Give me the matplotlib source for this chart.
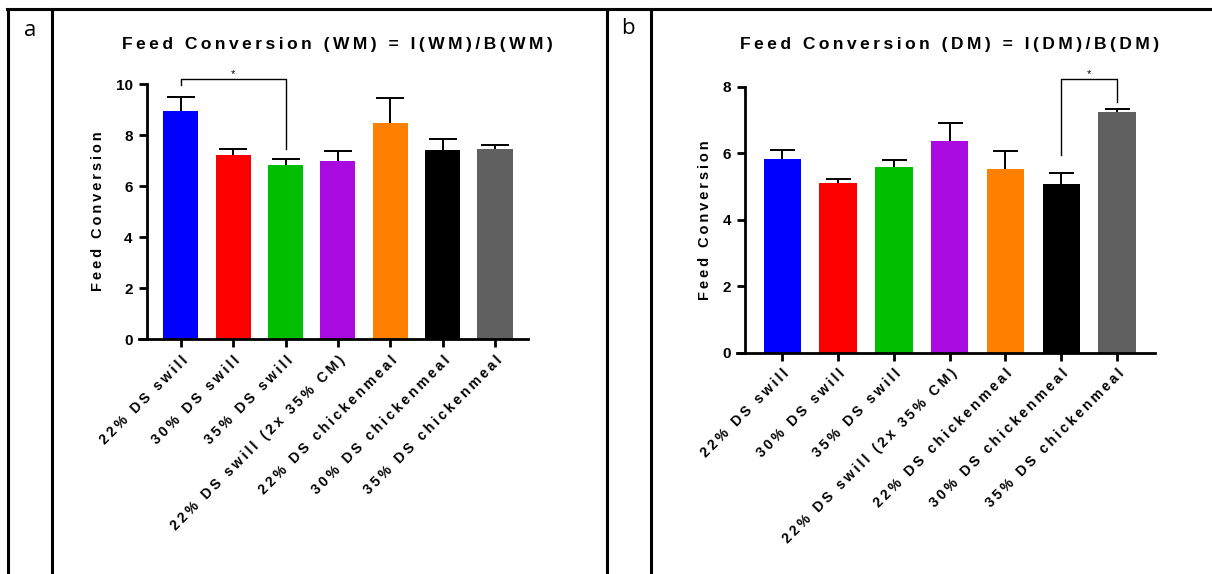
import numpy as np
import matplotlib
matplotlib.use('Agg')
import matplotlib.pyplot as plt
from matplotlib.lines import Line2D

plt.rcParams['font.family'] = ['Liberation Sans', 'DejaVu Sans']

# ---------------- data ----------------
groups = ['22% DS swill', '30% DS swill', '35% DS swill',
          '22% DS swill (2x 35% CM)', '22% DS chickenmeal',
          '30% DS chickenmeal', '35% DS chickenmeal']
colors = ['#0000FF', '#FF0000', '#00BF00', '#A90ADF', '#FF8000', '#000000', '#606060']

fc_wm = [8.96, 7.23, 6.82, 6.97, 8.47, 7.41, 7.47]
err_wm = [0.55, 0.21, 0.25, 0.40, 1.00, 0.42, 0.15]
fc_dm = [5.83, 5.09, 5.58, 6.37, 5.52, 5.08, 7.25]
err_dm = [0.26, 0.12, 0.22, 0.53, 0.56, 0.32, 0.08]

yticks_wm = [0, 2, 4, 6, 8, 10]
yticks_dm = [0, 2, 4, 6, 8]

# significance brackets: (i, j, top, left leg bottom, right leg bottom)
sig_wm = (0, 2, 10.2, 9.95, 7.45)
sig_dm = (5, 6, 8.22, 5.95, 7.55)


def spaced(s, sep='\u2009'):
    # Prism style letter spacing
    return sep.join(list(s))


fig = plt.figure(figsize=(12.12, 5.74), dpi=100)

# table frame lines
W, H = 1212, 574
def fline(x0, y0, x1, y1):
    fig.add_artist(Line2D([x0 / W, x1 / W], [1 - y0 / H, 1 - y1 / H],
                          color='black', lw=2.2, transform=fig.transFigure))
fline(7, 9, 1212, 9)
for xv in [8, 52, 607, 651]:
    fline(xv, 9, xv, 574)

fig.text(30 / W, 1 - 30 / H, 'a', fontsize=16, family='Open Sans', ha='center', va='center')
fig.text(628 / W, 1 - 28 / H, 'b', fontsize=16, family='Open Sans', ha='center', va='center')


def panel(rect, vals, errs, yticks, ymax, xlim, yspine, sig, title, title_x, cap):
    ax = fig.add_axes(rect)
    x = np.arange(len(groups))
    ax.bar(x, vals, width=0.67, color=colors, zorder=2)
    ax.errorbar(x, vals, yerr=errs, fmt='none', ecolor='black', elinewidth=1.4,
                capsize=cap, capthick=1.4, zorder=1, clip_on=False)
    ax.set_xlim(*xlim)
    ax.set_ylim(0, ymax)
    ax.spines['top'].set_visible(False)
    ax.spines['right'].set_visible(False)
    ax.spines['left'].set_position(('data', yspine))
    ax.spines['left'].set_linewidth(2)
    ax.spines['bottom'].set_linewidth(2)
    ax.set_yticks(yticks)
    ax.set_yticklabels([str(t) for t in yticks], fontsize=11, fontweight='bold')
    ax.tick_params(axis='y', length=6, width=2, pad=4)
    ax.tick_params(axis='x', length=6, width=2, pad=4)
    ax.set_xticks(x)
    ax.set_xticklabels([spaced(g) for g in groups], rotation=45, ha='right',
                       rotation_mode='anchor', fontsize=10.2, fontweight='bold')
    ax.set_ylabel(spaced('Feed Conversion'), fontsize=10.5, fontweight='bold', labelpad=8)
    i, j, top, lb, rb = sig
    ax.plot([i, i, j, j], [lb, top, top, rb], color='black', lw=1.0, clip_on=False)
    ax.text((i + j) / 2, top, '*', ha='center', va='bottom', fontsize=8, clip_on=False)
    fig.text(title_x / W, 1 - 45 / H, spaced(title), fontsize=12.5, fontweight='bold',
             ha='center', va='center')
    return ax


panel([139 / W, 1 - 339.3 / H, 389 / W, 255.3 / H], fc_wm, err_wm, yticks_wm, 10,
      (-0.80, 6.63), -0.656, sig_wm, 'Feed Conversion (WM) = I(WM)/B(WM)', 337, 10)
panel([737 / W, 1 - 352.7 / H, 418 / W, 266 / H], fc_dm, err_dm, yticks_dm, 8,
      (-0.81, 6.68), -0.663, sig_dm, 'Feed Conversion (DM) = I(DM)/B(DM)', 950, 9)

fig.savefig('out.png', dpi=100)
